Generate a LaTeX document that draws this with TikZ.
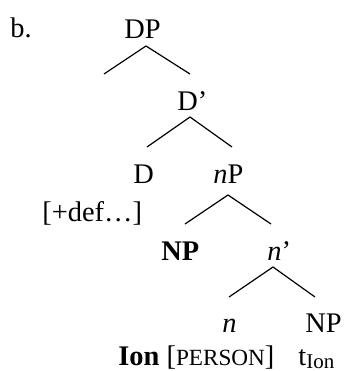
\documentclass[tikz,border=0pt]{standalone}
\usepackage{fontspec}
\setmainfont{Liberation Serif}
\newcommand{\lbl}{\fontsize{14.2}{17}\selectfont}
\newcommand{\smc}[1]{{\fontsize{11.6}{13}\selectfont #1}}
\tikzset{
  lab/.style={inner sep=0pt, anchor=base west, font=\lbl},
  branch/.style={line width=0.6pt}
}
\begin{document}
\begin{tikzpicture}[x=0.5pt,y=-0.5pt]
\useasboundingbox (0,0) rectangle (344,371);
% labels
\node[lab] (ex) at (10,37) {b.};
\node[lab] (DP) at (124,38) {DP};
\node[lab] (Dbar) at (177,110) {D’};
\node[lab] (D) at (133,183) {D};
\node[lab] (nP) at (213,183) {\textit{n}P};
\node[lab] (def) at (42,221) {[+def…]};
\node[lab] (NP1) at (161,260) {\textbf{NP}};
\node[lab] (nbar) at (267,260) {\textit{n}’};
\node[lab] (n) at (222,332) {\textit{n}};
\node[lab] (NP2) at (305,332) {NP};
\node[lab] (ion) at (118,365) {\textbf{Ion} [\smc{PERSON}]};
\node[lab] (trace) at (298,365) {t\raisebox{-0.3ex}{\fontsize{10.5}{11}\selectfont Ion}};
% branch points
\coordinate (a1) at (146,46);
\coordinate (l1) at (104,74);
\coordinate (r1) at (190,74);
\coordinate (a2) at (190,117);
\coordinate (l2) at (147,147);
\coordinate (r2) at (232,147);
\coordinate (a3) at (228,195);
\coordinate (l3) at (185,224);
\coordinate (r3) at (271,224);
\coordinate (a4) at (273,267);
\coordinate (l4) at (229,297);
\coordinate (r4) at (315,297);
\draw[branch] (l1) -- (a1) -- (r1);
\draw[branch] (l2) -- (a2) -- (r2);
\draw[branch] (l3) -- (a3) -- (r3);
\draw[branch] (l4) -- (a4) -- (r4);
\end{tikzpicture}
\end{document}
